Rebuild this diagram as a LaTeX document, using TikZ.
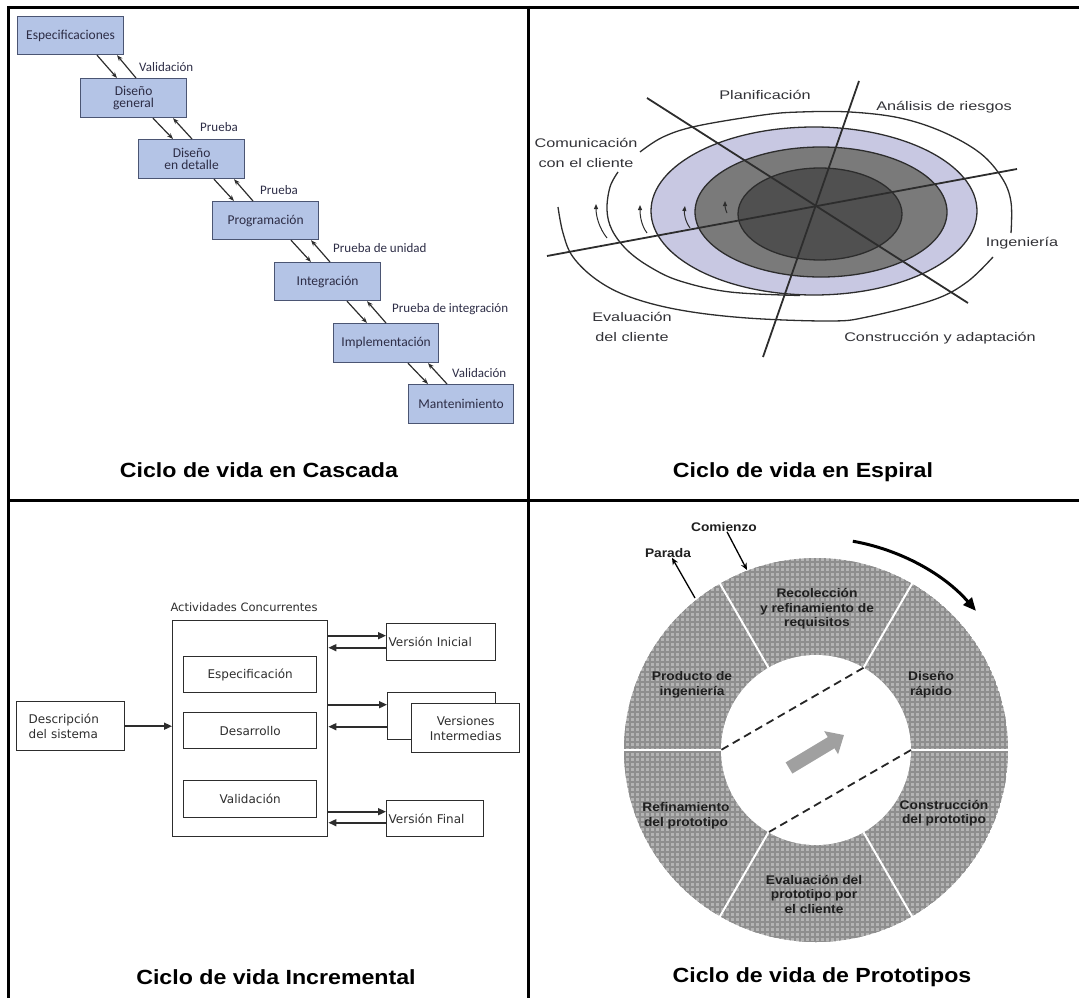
\documentclass[tikz,border=0pt]{standalone}
\usepackage{fontspec}
\setmainfont{Liberation Sans}
\newfontfamily\titlefont[FakeStretch=1.13]{Liberation Sans}
\newfontfamily\wffont{Carlito}
\newfontfamily\spfont[FakeStretch=1.3]{Liberation Sans}
\newfontfamily\ptfont[FakeStretch=1.1]{Liberation Sans}
\newfontfamily\incfont{DejaVu Sans}
\usetikzlibrary{arrows.meta,calc}
\definecolor{wfill}{RGB}{180,196,230}
\definecolor{wdraw}{RGB}{75,85,115}
\definecolor{wtext}{RGB}{45,45,70}
\definecolor{lav}{RGB}{200,200,226}
\definecolor{midg}{RGB}{122,122,122}
\definecolor{darkg}{RGB}{80,80,80}
\definecolor{sline}{RGB}{45,45,45}
\definecolor{stext}{RGB}{50,50,55}
\definecolor{ringbase}{RGB}{180,180,180}
\definecolor{ringline}{RGB}{142,142,142}
\definecolor{ringg}{RGB}{160,160,160}
\definecolor{inctext}{RGB}{45,45,45}
\tikzset{
  frame/.style={line width=3pt, black},
  wbox/.style={draw=wdraw, fill=wfill, line width=1.2pt, inner sep=0pt, anchor=north west,
    font=\wffont\fontsize{13.5}{12.5}\selectfont, text=wtext, align=center},
  wlab/.style={anchor=west, inner sep=0pt, font=\wffont\fontsize{13}{13}\selectfont, text=wtext},
  warr/.style={draw=sline, line width=1.2pt, -{Stealth[length=6pt,width=4.5pt]}},
  slab/.style={inner sep=0pt, align=center, font=\spfont\fontsize{12.5}{20}\selectfont, text=stext},
  sarc/.style={draw=sline, line width=1.3pt},
  sarrow/.style={draw=sline, line width=1pt, -{Triangle[length=5pt,width=4pt]}},
  ibox/.style={draw=inctext, line width=1.4pt, anchor=north west, inner sep=0pt,
    font=\incfont\fontsize{12}{15}\selectfont, text=inctext},
  iarr/.style={draw=inctext, line width=1.6pt, -{Triangle[length=8pt,width=7pt]}},
  plab/.style={inner sep=0pt, align=center, font=\ptfont\bfseries\fontsize{12.5}{14.5}\selectfont, text=black!88},
  parr/.style={draw=black, line width=1.3pt, -{Stealth[length=7pt,width=6pt]}},
  ttl/.style={inner sep=0pt, font=\titlefont\bfseries\fontsize{20.5}{24}\selectfont, text=black}
}
\begin{document}
\begin{tikzpicture}[x=1pt,y=-1pt]
\useasboundingbox (0,0) rectangle (1079,998);
% ---------- frame ----------
\draw[frame] (8.5,6) -- (8.5,998);
\draw[frame] (7,7.5) -- (1079,7.5);
\draw[frame] (528,6) -- (528,998);
\draw[frame] (7,500) -- (1079,500);

% ---------- Cascada ----------
\node[wbox, minimum width=106pt, minimum height=38pt] (w1) at (17,16) {Especificaciones};
\node[wbox, minimum width=106pt, minimum height=39pt] (w2) at (80,78) {Diseño\\general};
\node[wbox, minimum width=106pt, minimum height=39pt] (w3) at (138,139) {Diseño\\en detalle};
\node[wbox, minimum width=106pt, minimum height=38pt] (w4) at (212,201) {Programación};
\node[wbox, minimum width=106pt, minimum height=38pt] (w5) at (274,262) {Integración};
\node[wbox, minimum width=105pt, minimum height=39pt] (w6) at (333,323) {Implementación};
\node[wbox, minimum width=105pt, minimum height=39pt] (w7) at (408,384) {Mantenimiento};

\draw[warr] ([xshift=80pt]w1.south west) -- ([xshift=37pt]w2.north west);
\draw[warr] ([xshift=56pt]w2.north west) -- ([xshift=100pt]w1.south west);
\draw[warr] ([xshift=73pt]w2.south west) -- ([xshift=35pt]w3.north west);
\draw[warr] ([xshift=54pt]w3.north west) -- ([xshift=93pt]w2.south west);
\draw[warr] ([xshift=76pt]w3.south west) -- ([xshift=22pt]w4.north west);
\draw[warr] ([xshift=41pt]w4.north west) -- ([xshift=96pt]w3.south west);
\draw[warr] ([xshift=79pt]w4.south west) -- ([xshift=37pt]w5.north west);
\draw[warr] ([xshift=56pt]w5.north west) -- ([xshift=99pt]w4.south west);
\draw[warr] ([xshift=73pt]w5.south west) -- ([xshift=34pt]w6.north west);
\draw[warr] ([xshift=53pt]w6.north west) -- ([xshift=93pt]w5.south west);
\draw[warr] ([xshift=75pt]w6.south west) -- ([xshift=20pt]w7.north west);
\draw[warr] ([xshift=39pt]w7.north west) -- ([xshift=95pt]w6.south west);

\node[wlab] (l1) at (139,67) {Validación};
\node[wlab] (l2) at (200,127) {Prueba};
\node[wlab] (l3) at (260,190) {Prueba};
\node[wlab] (l4) at (333,248) {Prueba de unidad};
\node[wlab] (l5) at (392,309) {Prueba de integración};
\node[wlab] (l6) at (452,373) {Validación};

\node[ttl] (t1) at (259,470) {Ciclo de vida en Cascada};

% ---------- Espiral ----------
\filldraw[fill=lav, draw=sline, line width=1.3pt] (814,211) ellipse [x radius=163pt, y radius=84pt];
\filldraw[fill=midg, draw=sline, line width=1.3pt] (821,212) ellipse [x radius=126pt, y radius=65pt];
\filldraw[fill=darkg, draw=sline, line width=1.3pt] (820,214) ellipse [x radius=82pt, y radius=46pt];

\draw[sarc] plot[smooth, tension=0.6] coordinates {(558,207) (563,233) (573,257) (597,280) (630,297) (680,310) (747,318) (830,321) (867,317) (933,300) (967,282) (993,257)};
\draw[sarc] plot[smooth, tension=0.6] coordinates {(1011,233) (1011,202) (1002,178) (980,153) (943,132) (900,118) (850,112) (800,112) (763,115) (697,126) (663,137) (640,152)};
\draw[sarc] plot[smooth, tension=0.6] coordinates {(618,172) (610,187) (607,210) (612,230) (627,250) (650,267) (680,281) (730,292) (800,295.5)};

\draw[sarrow] (607,238) .. controls (599,228) and (596,216) .. (596,204);
\draw[sarrow] (647,233) .. controls (641,225) and (640,215) .. (640,205);
\draw[sarrow] (690,228) .. controls (685,221) and (684,213) .. (685,206);
\draw[sarrow] (727,213) .. controls (725,209) and (725,205) .. (725,201);

\draw[sline, line width=1.8pt] (647,98) -- (968,303);
\draw[sline, line width=1.8pt] (859,81) -- (763,357);
\draw[sline, line width=1.8pt] (547,256) -- (1017,169);

\node[slab] (s1) at (765,95) {Planificación};
\node[slab] (s2) at (944,107) {Análisis de riesgos};
\node[slab] (s3) at (586,153) {Comunicación\\con el cliente};
\node[slab] (s4) at (1022,243) {Ingeniería};
\node[slab] (s5) at (632,327) {Evaluación\\del cliente};
\node[slab] (s6) at (940,338) {Construcción y adaptación};

\node[ttl] (t2) at (803,472) {Ciclo de vida en Espiral};

% ---------- Incremental ----------
\node[ibox, minimum width=155pt, minimum height=216pt] (big) at (172,620) {};
\node[anchor=south, inner sep=0pt, font=\incfont\fontsize{11.5}{14}\selectfont, text=inctext] (act) at (244,612) {Actividades Concurrentes};
\node[ibox, minimum width=133pt, minimum height=36pt] (esp) at (183,656) {Especificación};
\node[ibox, minimum width=133pt, minimum height=36pt] (des) at (183,712) {Desarrollo};
\node[ibox, minimum width=133pt, minimum height=37pt] (val) at (183,780) {Validación};
\node[ibox, minimum height=49pt, text width=84pt, inner xsep=12pt, align=left] (desc) at (16,701) {Descripción\\del sistema};
\node[ibox, minimum height=37pt, text width=105pt, inner xsep=2pt, align=left] (vi) at (386,623) {Versión Inicial};
\node[ibox, minimum width=108pt, minimum height=47pt] (vib) at (387,692) {};
\node[ibox, fill=white, minimum width=108pt, minimum height=49pt, align=center] (vint) at (411,703) {Versiones\\Intermedias};
\node[ibox, minimum height=36pt, text width=93pt, inner xsep=2pt, align=left] (vf) at (386,800) {Versión Final};

\draw[iarr] (desc.east) -- (desc.east -| big.west);
\draw[iarr] ([yshift=6.5pt]vi.west -| big.east) -- ([yshift=6.5pt]vi.west);
\draw[iarr] ([yshift=-5.5pt]vi.west) -- ([yshift=-5.5pt]vi.west -| big.east);
\draw[iarr] ([yshift=11.5pt]vib.west -| big.east) -- ([yshift=11.5pt]vib.west);
\draw[iarr] ([yshift=-10.5pt]vib.west) -- ([yshift=-10.5pt]vib.west -| big.east);
\draw[iarr] ([yshift=7pt]vf.west -| big.east) -- ([yshift=7pt]vf.west);
\draw[iarr] ([yshift=-4pt]vf.west) -- ([yshift=-4pt]vf.west -| big.east);

\node[ttl] (t3) at (276,977) {Ciclo de vida Incremental};

% ---------- Prototipos ----------
\coordinate (pc) at (816,750);
\begin{scope}
  \clip (pc) circle[radius=192pt];
  \fill[ringbase] (pc) circle[radius=192pt];
  \foreach \k in {0,...,80}{
    \draw[ringline, line width=1.4pt] (620+5*\k,552) -- (620+5*\k,950);
    \draw[ringline, line width=1.4pt] (618,552+5*\k) -- (1016,552+5*\k);
  }
\end{scope}
\fill[white] (pc) circle[radius=95pt];
\foreach \a in {0,60,...,300}{
  \draw[white, line width=2pt] ($(pc)+(\a:95pt)$) -- ($(pc)+(\a:193pt)$);
}
\draw[black!85, line width=1.8pt, dash pattern=on 8pt off 5pt] ($(pc)+(60:95pt)$) -- ($(pc)+(180:95pt)$);
\draw[black!85, line width=1.8pt, dash pattern=on 8pt off 5pt] ($(pc)+(0:95pt)$) -- ($(pc)+(240:95pt)$);
\draw[ringg, line width=13pt, -{Triangle[length=15pt,width=26pt]}] (789,768) -- (844,735);
\draw[black, line width=3pt, -{Triangle[length=13pt,width=11pt]}] (pc) ++(80:212pt) arc[start angle=80, end angle=41, radius=212pt];

\node[plab] (com) at (724,527) {Comienzo};
\node[plab] (par) at (668,553) {Parada};
\coordinate (comE) at (747,570);
\coordinate (parS) at (695,598);
\draw[parr] ([xshift=3pt]com.south) -- (comE);
\draw[parr] (parS) -- ([xshift=4pt]par.south);

\node[plab] (p1) at (817,609) {Recolección\\y refinamiento de\\requisitos};
\node[plab] (p2) at (931,685) {Diseño\\rápido};
\node[plab] (p3) at (944,813) {Construcción\\del prototipo};
\node[plab] (p4) at (814,894) {Evaluación del\\prototipo por\\el cliente};
\node[plab] (p5) at (686,816) {Refinamiento\\del prototipo};
\node[plab] (p6) at (692,685) {Producto de\\ingeniería};

\node[ttl] (t4) at (822,977) {Ciclo de vida de Prototipos};
\end{tikzpicture}
\end{document}
